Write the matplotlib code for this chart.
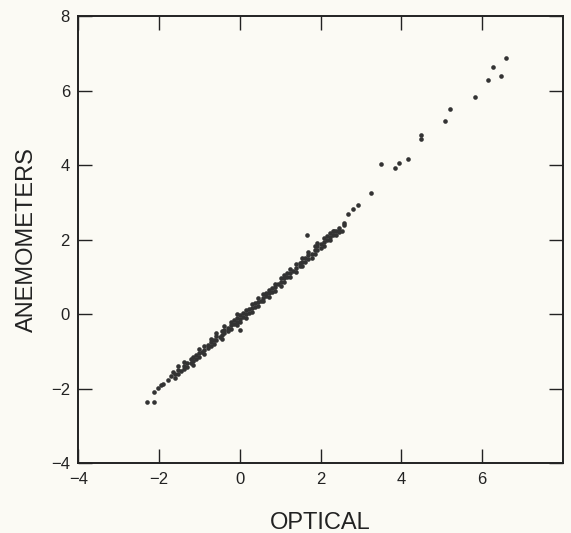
import matplotlib
matplotlib.use("Agg")
import matplotlib.pyplot as plt

# lowest readings, below the main band
tail_lo_x = [-2.30, -2.13, -2.12, -2.02, -1.96, -1.90, -1.77, -1.71, -1.66]
tail_lo_y = [-2.36, -2.36, -2.10, -1.99, -1.91, -1.88, -1.76, -1.66, -1.55]

# main band, one line per optical value
band_x = [
    -1.60, -1.60,
    -1.52, -1.52, -1.52,
    -1.45,
    -1.38, -1.38, -1.38,
    -1.30, -1.30,
    -1.22, -1.22,
    -1.15, -1.15, -1.15,
    -1.08, -1.08,
    -1.00, -1.00, -1.00,
    -0.93,
    -0.88, -0.88, -0.88,
    -0.80, -0.80,
    -0.72, -0.72, -0.72,
    -0.65, -0.65,
    -0.58, -0.58, -0.58,
    -0.50,
    -0.45, -0.45, -0.45,
    -0.38, -0.38, -0.38,
    -0.30, -0.30,
    -0.22, -0.22, -0.22,
    -0.15, -0.15,
    -0.08, -0.08, -0.08, -0.08,
    0.00, 0.00, 0.00, 0.00,
    0.08, 0.08,
    0.15, 0.15, 0.15,
    0.22, 0.22,
    0.30, 0.30, 0.30,
    0.38, 0.38,
    0.45, 0.45, 0.45,
    0.52,
    0.58, 0.58, 0.58,
    0.65, 0.65,
    0.72, 0.72, 0.72,
    0.80, 0.80,
    0.88, 0.88, 0.88,
    0.95,
    1.02, 1.02, 1.02,
    1.10, 1.10, 1.10,
    1.18, 1.18,
    1.25, 1.25, 1.25,
    1.32,
    1.40, 1.40, 1.40,
    1.48, 1.48,
    1.55, 1.55, 1.55,
    1.62, 1.62,
    1.67,
    1.70, 1.70, 1.70,
    1.78, 1.78,
    1.85, 1.85, 1.85,
    1.92, 1.92, 1.92,
    2.00, 2.00,
    2.08, 2.08, 2.08,
    2.15, 2.15,
    2.22, 2.22, 2.22,
    2.30, 2.30,
    2.38, 2.38,
    2.45, 2.45,
    2.52,
]
band_y = [
    -1.72, -1.62,
    -1.60, -1.50, -1.40,
    -1.52,
    -1.48, -1.38, -1.28,
    -1.42, -1.32,
    -1.30, -1.20,
    -1.36, -1.26, -1.16,
    -1.20, -1.10,
    -1.14, -1.04, -0.94,
    -1.02,
    -1.06, -0.96, -0.86,
    -0.92, -0.82,
    -0.86, -0.76, -0.66,
    -0.80, -0.70,
    -0.70, -0.60, -0.50,
    -0.62,
    -0.66, -0.56, -0.46,
    -0.52, -0.42, -0.32,
    -0.46, -0.36,
    -0.40, -0.30, -0.20,
    -0.26, -0.16,
    -0.30, -0.20, -0.10, 0.00,
    -0.42, -0.22, -0.12, -0.02,
    -0.08, 0.02,
    -0.10, 0.00, 0.10,
    0.04, 0.14,
    0.06, 0.16, 0.26,
    0.20, 0.30,
    0.22, 0.32, 0.42,
    0.36,
    0.34, 0.44, 0.54,
    0.48, 0.58,
    0.46, 0.56, 0.66,
    0.60, 0.70,
    0.62, 0.72, 0.82,
    0.80,
    0.76, 0.86, 0.96,
    0.86, 0.96, 1.06,
    1.00, 1.10,
    1.00, 1.10, 1.20,
    1.16,
    1.14, 1.24, 1.34,
    1.28, 1.38,
    1.30, 1.40, 1.50,
    1.40, 1.50,
    2.12,
    1.48, 1.58, 1.68,
    1.50, 1.60,
    1.62, 1.72, 1.82,
    1.72, 1.82, 1.92,
    1.78, 1.88,
    1.84, 1.94, 2.04,
    2.00, 2.10,
    1.98, 2.08, 2.18,
    2.12, 2.22,
    2.12, 2.22,
    2.20, 2.30,
    2.22,
]

# sparse upper tail
tail_hi_x = [2.33, 2.45, 2.58, 2.58, 2.67, 2.80, 2.92, 3.25, 3.50, 3.84,
             3.94, 4.16, 4.49, 4.49, 5.07, 5.20, 5.81, 6.15, 6.46, 6.26, 6.59]
tail_hi_y = [2.23, 2.23, 2.45, 2.38, 2.68, 2.81, 2.93, 3.25, 4.04, 3.93,
             4.05, 4.16, 4.81, 4.69, 5.17, 5.50, 5.83, 6.27, 6.40, 6.63, 6.86]

xticks = [-4, -2, 0, 2, 4, 6]
yticks = [-4, -2, 0, 2, 4, 6, 8]

plt.rcParams['font.family'] = ['Liberation Sans', 'DejaVu Sans']
paper = '#fbfaf4'
ink = '#222222'
dot = '#333333'

fig = plt.figure(figsize=(5.71, 5.33), dpi=100, facecolor=paper)
ax = fig.add_axes([0.137, 0.131, 0.849, 0.839], facecolor=paper)

for xs, ys in [(tail_lo_x, tail_lo_y), (band_x, band_y), (tail_hi_x, tail_hi_y)]:
    ax.scatter(xs, ys, s=11, color=dot, marker='o', linewidths=0)

ax.set_xlim(-4, 8)
ax.set_ylim(-4, 8)
ax.set_xticks(xticks)
ax.set_yticks(yticks)
ax.tick_params(direction='in', length=10, width=1.0, color=ink,
               top=True, right=True, labelsize=12, labelcolor=ink, pad=6)
for side in ax.spines.values():
    side.set_linewidth(1.4)
    side.set_color(ink)

ax.set_xlabel('OPTICAL', fontsize=17, color=ink, labelpad=18)
ax.set_ylabel('ANEMOMETERS', fontsize=17, color=ink, labelpad=9)

fig.savefig('out.png', dpi=100, facecolor=paper)
